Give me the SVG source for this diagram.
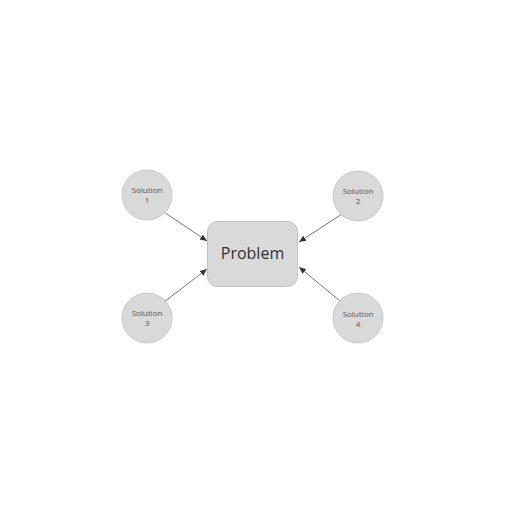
<svg xmlns="http://www.w3.org/2000/svg" width="512" height="512" viewBox="0 0 512 512">
<style>
.sol circle{fill:#d9d9d9;stroke:#c9c9c9;stroke-width:1}
.sol text{font-family:"Open Sans","Noto Sans",sans-serif;font-size:8px;fill:#555;text-anchor:middle}
.edge{stroke:#666;stroke-width:0.9;fill:none;marker-end:url(#ah)}
</style>
<defs>
<marker id="ah" markerWidth="8" markerHeight="8" refX="7" refY="4" orient="auto" markerUnits="userSpaceOnUse">
<path d="M0,1 L7,4 L0,7 Z" fill="#333"/>
</marker>
</defs>
<rect width="512" height="512" fill="#fff"/>
<g id="connectors">
<line class="edge" x1="164" y1="212" x2="207" y2="241"/>
<line class="edge" x1="164" y1="302" x2="207" y2="269"/>
<line class="edge" x1="342" y1="214" x2="299" y2="242"/>
<line class="edge" x1="340" y1="301" x2="299" y2="267"/>
</g>
<g id="problem">
<rect x="207.5" y="221.5" width="90" height="65" rx="10" fill="#d9d9d9" stroke="#c3c3c3"/>
<text x="252.5" y="259" font-family="'Open Sans','Noto Sans',sans-serif" font-size="16" fill="#333" text-anchor="middle">Problem</text>
</g>
<g id="solution1" class="sol">
<circle cx="147" cy="195" r="25"/>
<text x="147" y="193">Solution</text>
<text x="147" y="203">1</text>
</g>
<g id="solution2" class="sol">
<circle cx="358" cy="196" r="25"/>
<text x="358" y="194">Solution</text>
<text x="358" y="204">2</text>
</g>
<g id="solution3" class="sol">
<circle cx="147" cy="318" r="25"/>
<text x="147" y="316">Solution</text>
<text x="147" y="326">3</text>
</g>
<g id="solution4" class="sol">
<circle cx="358" cy="318" r="25"/>
<text x="358" y="317">Solution</text>
<text x="358" y="327">4</text>
</g>
</svg>
